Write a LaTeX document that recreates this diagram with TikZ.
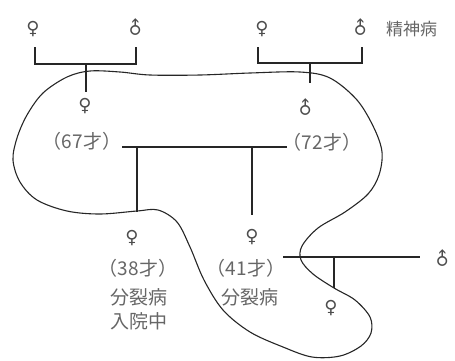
\documentclass[tikz,border=0pt]{standalone}
\usepackage{fontspec}
\newfontfamily\symf{DejaVu Serif}
\newfontfamily\cjk{Noto Sans CJK JP}
\begin{document}
\begin{tikzpicture}[x=1pt,y=-1pt,
  sym/.style={font=\symf\fontsize{18}{18}\selectfont, text=black!70, inner sep=0pt},
  male/.style={sym, rotate=45},
  lbl/.style={font=\cjk\fontsize{17}{20}\selectfont, text=black!60, inner sep=0pt},
  big/.style={lbl, font=\cjk\fontsize{19}{22}\selectfont},
  ln/.style={line width=1.3pt, black!85},
  blob/.style={line width=1.1pt, black!85}]
\useasboundingbox (0,0) rectangle (455,360);
% symbols and labels
\node[sym] (a) at (33,29) {♀};
\node[male] (b) at (136,28) {♂};
\node[sym] (c) at (262,29) {♀};
\node[male] (d) at (361,28) {♂};
\node[lbl, anchor=west] (ill) at (386,29) {精神病};
\node[sym] (m) at (85,106) {♀};
\node[male] (f) at (306,108) {♂};
\node[big] (ma) at (82,141) {（67才）};
\node[big] (fa) at (322,142) {（72才）};
\node[sym] (k1) at (132,238) {♀};
\node[big] (k1a) at (138,268) {（38才）};
\node[big] (k1b) at (139,297) {分裂病};
\node[big] (k1c) at (139,321) {入院中};
\node[sym] (k2) at (252,237) {♀};
\node[big] (k2a) at (246,268) {（41才）};
\node[big] (k2b) at (250,297) {分裂病};
\node[male] (sp) at (443,259) {♂};
\node[sym] (gc) at (331,308) {♀};
% coordinates
\coordinate (a1) at (35,47); \coordinate (b1) at (136,47);
\coordinate (c1) at (258,47); \coordinate (d1) at (362,47);
\coordinate (ab) at (86,64); \coordinate (abd) at (86,92);
\coordinate (cd) at (310,63); \coordinate (cdd) at (310,83);
\coordinate (mL) at (122,147); \coordinate (mR) at (287,147);
\coordinate (j1) at (137,147); \coordinate (j1d) at (137,212);
\coordinate (j2) at (252,147); \coordinate (j2d) at (252,215);
\coordinate (sL) at (283,257); \coordinate (sR) at (420,257);
\coordinate (s1) at (334,257); \coordinate (s1d) at (334,288);
% pedigree lines
\draw[ln] (a1) |- (b1 |- ab) -- (b1);
\draw[ln] (ab) -- (abd);
\draw[ln] (c1) |- (d1 |- cd) -- (d1);
\draw[ln] (cd) -- (cdd);
\draw[ln] (mL) -- (mR);
\draw[ln] (j1) -- (j1d);
\draw[ln] (j2) -- (j2d);
\draw[ln] (sL) -- (sR);
\draw[ln] (s1) -- (s1d);
% outline
\draw[blob] plot[smooth cycle, tension=0.55] coordinates {
 (67,77) (90,71) (120,72) (150,75) (200,75) (250,73) (300,72) (330,78)
 (357,100) (374,128) (382,152) (379,175) (368,194) (345,212) (318,228)
 (302,246) (301,260) (313,274) (334,288) (355,300) (370,317) (371,333)
 (361,346) (340,356) (312,357) (283,347) (250,332) (223,310) (204,280)
 (190,247) (177,222) (158,210) (137,211) (100,214) (67,211) (37,200)
 (20,182) (13,160) (17,138) (27,115) (43,93)};
\end{tikzpicture}
\end{document}
